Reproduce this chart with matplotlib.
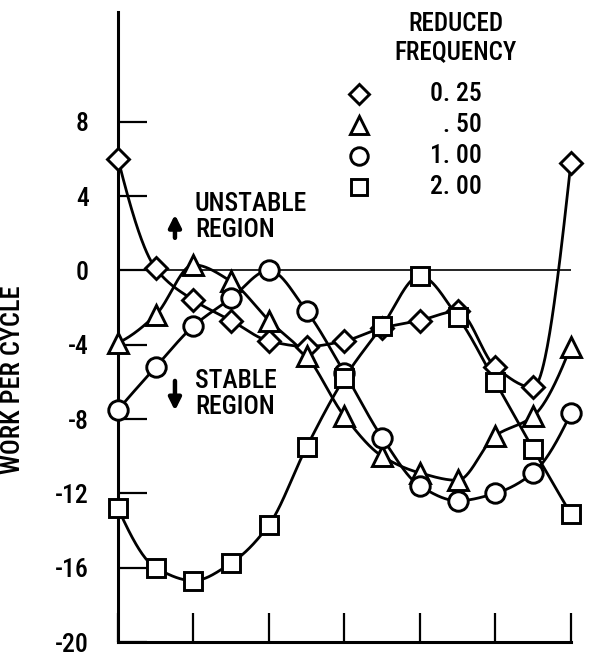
import matplotlib
matplotlib.use("Agg")
import matplotlib.pyplot as plt
import numpy as np

plt.rcParams['font.family'] = ['Roboto Condensed', 'DejaVu Sans']
plt.rcParams['font.weight'] = 'medium'
plt.rcParams['axes.labelweight'] = 'medium'

# phase positions (13 points, ticks every second point)
phase = list(range(13))

freq_labels = ["0. 25", ". 50", "1. 00", "2. 00"]
markers = ["D", "^", "o", "s"]
marker_sizes = [11.5, 14, 14, 13]

work_025 = [6.0, 0.1, -1.6, -2.7, -3.8, -4.1, -3.8, -3.1, -2.7, -2.2, -5.2, -6.3, 5.75]
work_050 = [-3.9, -2.4, 0.3, -0.6, -2.7, -4.6, -7.85, -10.0, -10.9, -11.3, -8.9, -7.85, -4.1]
work_100 = [-7.5, -5.2, -3.0, -1.5, 0.0, -2.2, -5.5, -9.0, -11.6, -12.4, -12.0, -10.9, -7.7]
work_200 = [-12.8, -16.0, -16.7, -15.75, -13.7, -9.5, -5.8, -3.0, -0.3, -2.5, -6.0, -9.6, -13.1]

series = [work_025, work_050, work_100, work_200]

y_ticks = [8, 4, 0, -4, -8, -12, -16, -20]


def pchip(x, y, xn):
    x = np.asarray(x, float)
    y = np.asarray(y, float)
    h = np.diff(x)
    d = np.diff(y) / h
    n = len(x)
    m = np.zeros(n)
    for k in range(1, n - 1):
        if d[k - 1] * d[k] > 0:
            w1 = 2 * h[k] + h[k - 1]
            w2 = h[k] + 2 * h[k - 1]
            m[k] = (w1 + w2) / (w1 / d[k - 1] + w2 / d[k])

    def end_slope(h0, h1, d0, d1):
        s = ((2 * h0 + h1) * d0 - h0 * d1) / (h0 + h1)
        if np.sign(s) != np.sign(d0):
            s = 0.0
        elif np.sign(d0) != np.sign(d1) and abs(s) > abs(3 * d0):
            s = 3 * d0
        return s

    m[0] = end_slope(h[0], h[1], d[0], d[1])
    m[-1] = end_slope(h[-1], h[-2], d[-1], d[-2])
    idx = np.clip(np.searchsorted(x, xn) - 1, 0, n - 2)
    t = (xn - x[idx]) / h[idx]
    h00 = 2 * t**3 - 3 * t**2 + 1
    h10 = t**3 - 2 * t**2 + t
    h01 = -2 * t**3 + 3 * t**2
    h11 = t**3 - t**2
    return h00 * y[idx] + h10 * h[idx] * m[idx] + h01 * y[idx + 1] + h11 * h[idx] * m[idx + 1]


fig = plt.figure(figsize=(5.89, 6.61), dpi=100)
ax = fig.add_axes([0.2003, 0.0287, 0.7688, 0.9531])

ax.axhline(0, color='black', lw=1.2, zorder=1)

xs = np.linspace(phase[0], phase[-1], 600)
for vals, mk, ms in zip(series, markers, marker_sizes):
    ax.plot(xs, pchip(phase, vals, xs), color='black', lw=2.0, zorder=2)
    ax.plot(phase, vals, linestyle='none', marker=mk, ms=ms, mfc='white',
            mec='black', mew=2.1, zorder=3, clip_on=False)

ax.set_xlim(0, 12)
ax.set_ylim(-20, 13.9)
ax.spines['top'].set_visible(False)
ax.spines['right'].set_visible(False)
ax.spines['left'].set_linewidth(2.2)
ax.spines['bottom'].set_linewidth(2.2)

ax.set_xticks(range(0, 13, 2))
ax.set_xticklabels([])
ax.set_yticks(y_ticks)
ax.set_yticklabels([str(t) for t in y_ticks])
ax.tick_params(axis='both', direction='in', length=21, width=1.6, color='black')
ax.tick_params(axis='y', pad=21, labelsize=18.5)

ax.set_ylabel("WORK PER CYCLE", fontsize=19, fontweight='medium')
ax.yaxis.set_label_coords(-0.205, 0.416)

# stability annotations
ax.text(2.04, 2.85, "UNSTABLE\nREGION", fontsize=18.5, ha='left', va='center', linespacing=1.1)
ax.annotate("", xy=(1.51, 3.15), xytext=(1.51, 1.6),
            arrowprops=dict(arrowstyle='-|>', color='black', lw=3.2, mutation_scale=18))
ax.text(2.04, -6.65, "STABLE\nREGION", fontsize=18.5, ha='left', va='center', linespacing=1.1)
ax.annotate("", xy=(1.51, -7.7), xytext=(1.51, -5.8),
            arrowprops=dict(arrowstyle='-|>', color='black', lw=3.2, mutation_scale=18))

# legend drawn by hand
ax.text(0.746, 0.959, "REDUCED\nFREQUENCY", transform=ax.transAxes, fontsize=18,
        ha='center', va='center', linespacing=1.2)
rows = [0.870, 0.821, 0.771, 0.722]
for mk, ms, lab, ry in zip(markers, marker_sizes, freq_labels, rows):
    ax.plot([0.532], [ry], transform=ax.transAxes, linestyle='none', marker=mk,
            ms=ms * 0.9, mfc='white', mec='black', mew=2.1, clip_on=False)
    ax.text(0.803, ry, lab, transform=ax.transAxes, fontsize=18.5, ha='right', va='center')

fig.savefig("out.png", dpi=100)
